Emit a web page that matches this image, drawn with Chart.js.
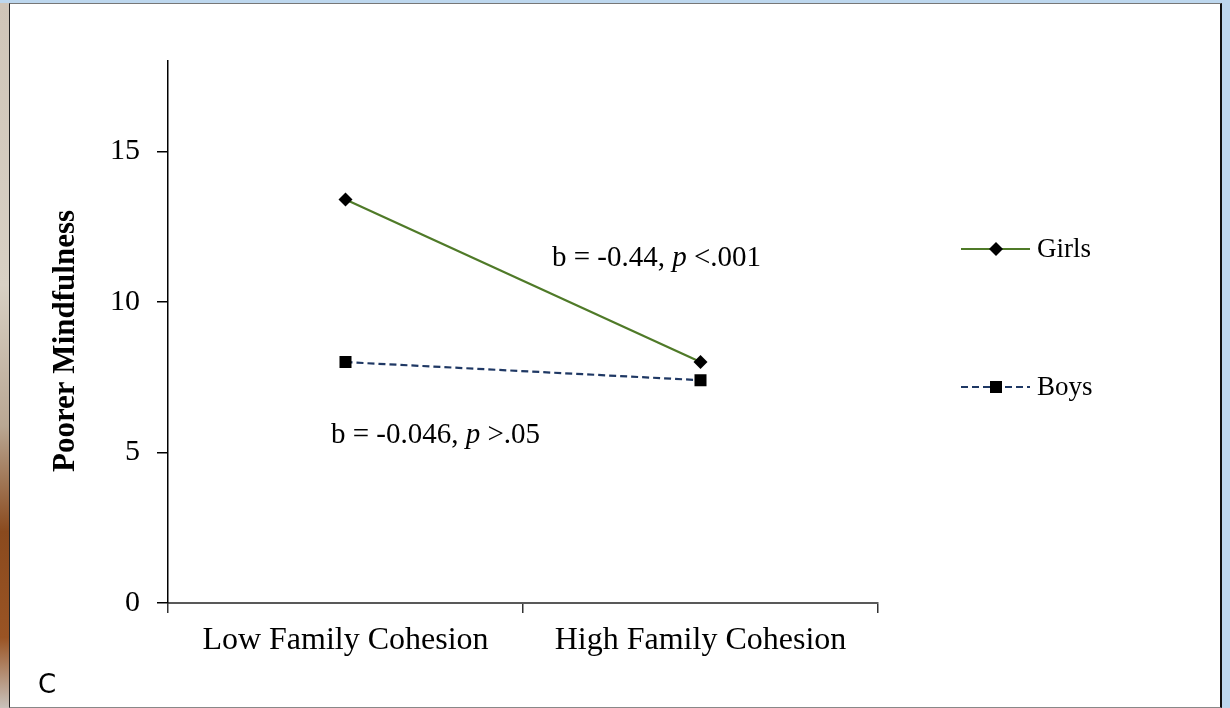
<!DOCTYPE html>
<html>
<head>
<meta charset="utf-8">
<script src="https://cdn.jsdelivr.net/npm/chart.js@4.4.1/dist/chart.umd.min.js"></script>
<style>
  html, body { margin: 0; padding: 0; }
  body { width: 1230px; height: 708px; position: relative; overflow: hidden; background: #bdd7ee; }
  #photo { position: absolute; left: 0; top: 3px; width: 9px; height: 705px;
    background: linear-gradient(180deg, #cfc5b8 0%, #d8d0c4 40%, #b9a793 60%, #8a4a1e 75%, #9a5424 90%, #c9c2bb 100%); }
  #panel { position: absolute; left: 9px; top: 3px; width: 1210px; height: 703px;
    background: #fff; border-left: 1px solid #222; border-top: 1px solid #777; border-right: 2px solid #111; border-bottom: 1px solid #888; }
  #chart { position: absolute; left: 0; top: 0; }
  #tag { position: absolute; left: 38px; top: 669px; font: 26px "DejaVu Sans", sans-serif; color: #000; }
</style>
</head>
<body>
<div id="photo"></div>
<div id="panel"></div>
<canvas id="chart" width="1230" height="708"></canvas>
<div id="tag">C</div>
<script>
// data
const categories = ['Low Family Cohesion', 'High Family Cohesion'];
const girls = [13.4, 8.0];
const boys = [8.0, 7.4];
const yTicks = [0, 5, 10, 15];
const seriesNames = ['Girls', 'Boys'];
const notes = [
  { pre: 'b = -0.44, ', post: ' <.001' },
  { pre: 'b = -0.046, ', post: ' >.05' }
];

const SERIF = '"Liberation Serif", "Times New Roman", serif';
const GREEN = '#4f7a28';
const NAVY = '#1f3864';

function drawNote(ctx, note, x, y) {
  ctx.textBaseline = 'alphabetic';
  ctx.textAlign = 'left';
  ctx.fillStyle = '#000';
  ctx.font = '29px ' + SERIF;
  ctx.fillText(note.pre, x, y);
  let w = ctx.measureText(note.pre).width;
  ctx.font = 'italic 29px ' + SERIF;
  ctx.fillText('p', x + w, y);
  w += ctx.measureText('p').width;
  ctx.font = '29px ' + SERIF;
  ctx.fillText(note.post, x + w, y);
}

function marker(ctx, style, x, y) {
  ctx.fillStyle = '#000';
  ctx.beginPath();
  if (style === 'rectRot') {
    const r = 7;
    ctx.moveTo(x, y - r); ctx.lineTo(x + r, y); ctx.lineTo(x, y + r); ctx.lineTo(x - r, y);
  } else {
    ctx.rect(x - 6, y - 6, 12, 12);
  }
  ctx.closePath();
  ctx.fill();
}

const extras = {
  id: 'extras',
  afterDraw(chart) {
    const ctx = chart.ctx;
    ctx.save();
    // annotations
    drawNote(ctx, notes[0], 552, 266);
    drawNote(ctx, notes[1], 331, 443);
    // legend
    const rows = [
      { y: 249, color: GREEN, dash: [], style: 'rectRot' },
      { y: 387, color: NAVY, dash: [7, 4], style: 'rect' }
    ];
    rows.forEach((r, i) => {
      ctx.strokeStyle = r.color;
      ctx.lineWidth = 2;
      ctx.setLineDash(r.dash);
      ctx.beginPath();
      ctx.moveTo(961, r.y); ctx.lineTo(1030, r.y);
      ctx.stroke();
      ctx.setLineDash([]);
      marker(ctx, r.style, 996, r.y);
      ctx.fillStyle = '#000';
      ctx.font = '27px ' + SERIF;
      ctx.textBaseline = 'middle';
      ctx.textAlign = 'left';
      ctx.fillText(seriesNames[i], 1037, r.y + 1);
    });
    // y axis title
    ctx.translate(66, 341);
    ctx.rotate(-Math.PI / 2);
    ctx.font = 'bold 31px ' + SERIF;
    ctx.textAlign = 'center';
    ctx.textBaseline = 'middle';
    ctx.fillStyle = '#000';
    ctx.fillText('Poorer Mindfulness', 0, 0);
    ctx.restore();
  }
};

new Chart(document.getElementById('chart'), {
  type: 'line',
  data: {
    labels: categories,
    datasets: [{
      label: seriesNames[0],
      data: girls,
      borderColor: GREEN,
      borderWidth: 2.2,
      pointStyle: 'rectRot',
      pointRadius: 7,
      pointBackgroundColor: '#000',
      pointBorderColor: '#000',
      pointBorderWidth: 0,
      tension: 0
    }, {
      label: seriesNames[1],
      data: boys,
      borderColor: NAVY,
      borderWidth: 2.2,
      borderDash: [7, 4],
      pointStyle: 'rect',
      pointRadius: 8.5,
      pointBackgroundColor: '#000',
      pointBorderColor: '#000',
      pointBorderWidth: 0,
      tension: 0
    }]
  },
  options: {
    responsive: false,
    animation: false,
    layout: { padding: { left: 0, right: 352, top: 61, bottom: 0 } },
    plugins: { legend: { display: false }, tooltip: { enabled: false } },
    scales: {
      x: {
        offset: true,
        afterFit(s) { s.height = 105; },
        grid: { offset: true, drawOnChartArea: false, drawTicks: true, tickLength: 10, color: '#333', lineWidth: 1.5 },
        border: { color: '#595959', width: 2 },
        ticks: { color: '#000', padding: 8, font: { family: SERIF, size: 32 } }
      },
      y: {
        min: 0,
        max: 18,
        afterFit(s) { s.width = 168; },
        afterBuildTicks(s) { s.ticks = yTicks.map(v => ({ value: v })); },
        grid: { drawOnChartArea: false, tickLength: 11, color: '#000', lineWidth: 1.5 },
        border: { color: '#000', width: 1.5 },
        ticks: { color: '#000', padding: 17, font: { family: SERIF, size: 30 } }
      }
    }
  },
  plugins: [extras]
});
</script>
</body>
</html>
